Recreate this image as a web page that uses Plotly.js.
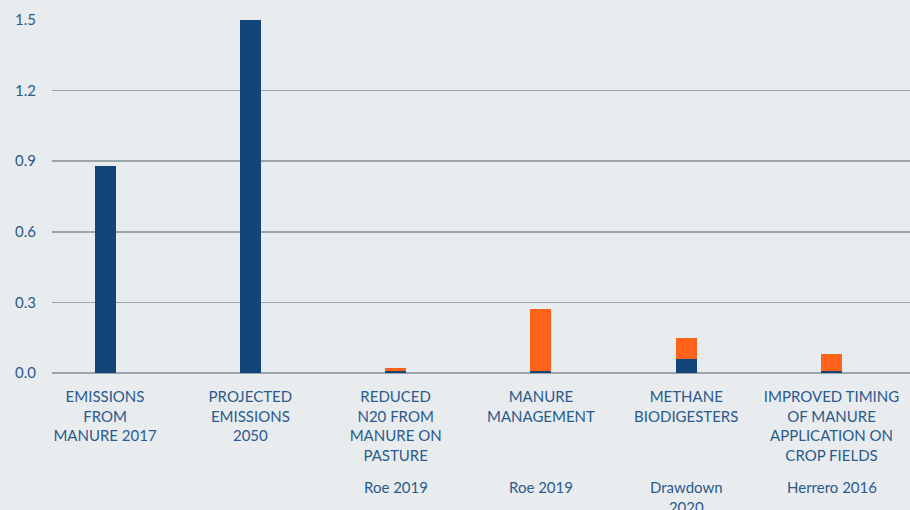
<!DOCTYPE html>
<html>
<head>
<meta charset="utf-8">
<script src="https://cdn.plot.ly/plotly-3.0.1.min.js"></script>
<style>
  html, body { margin: 0; padding: 0; background: #e8ecef; }
  #chart { width: 910px; height: 510px; }
</style>
</head>
<body>
<div id="chart"></div>
<script>
const categories = [
  "EMISSIONS<br>FROM<br>MANURE 2017",
  "PROJECTED<br>EMISSIONS<br>2050",
  "REDUCED<br>N20 FROM<br>MANURE ON<br>PASTURE",
  "MANURE<br>MANAGEMENT",
  "METHANE<br>BIODIGESTERS",
  "IMPROVED TIMING<br>OF MANURE<br>APPLICATION ON<br>CROP FIELDS"
];
const sources = ["", "", "Roe 2019", "Roe 2019", "Drawdown<br>2020", "Herrero 2016"];
const baseValues = [0.88, 1.5, 0.01, 0.01, 0.06, 0.01];
const extraValues = [0, 0, 0.01, 0.26, 0.09, 0.07];
const yTicks = [0, 0.3, 0.6, 0.9, 1.2, 1.5];

const idx = categories.map((_, i) => i);
const textColor = "#2b5a8c";
const fontFam = "Lato, 'Open Sans', sans-serif";
const fontSize = 15;

const traces = [
  { type: "bar", x: idx, y: baseValues, marker: { color: "#12467a" }, width: 0.145, hoverinfo: "skip" },
  { type: "bar", x: idx, y: extraValues, marker: { color: "#ff6319" }, width: 0.145, hoverinfo: "skip" }
];

const ann = [];
sources.forEach((s, i) => {
  if (!s) return;
  ann.push({
    x: i, xref: "x", y: -0.292, yref: "paper", yanchor: "top", xanchor: "center",
    text: s, showarrow: false, font: { family: fontFam, size: fontSize, color: textColor }
  });
});

const layout = {
  width: 910, height: 510,
  margin: { l: 52, r: 0, t: 19.5, b: 136.5 },
  paper_bgcolor: "#e8ecef",
  plot_bgcolor: "#e8ecef",
  barmode: "stack",
  showlegend: false,
  font: { family: fontFam, size: fontSize, color: textColor },
  xaxis: {
    type: "linear",
    range: [-0.365, 5.54],
    tickvals: idx,
    ticktext: categories,
    showgrid: false,
    zeroline: false,
    showline: false,
    ticks: "",
    ticklabelstandoff: 13,
    tickfont: { family: fontFam, size: fontSize, color: textColor }
  },
  yaxis: {
    range: [0, 1.5],
    tickvals: yTicks,
    tickformat: ".1f",
    showgrid: true,
    gridcolor: "#9ba5ab",
    gridwidth: 1.5,
    zeroline: true,
    zerolinecolor: "#9ba5ab",
    zerolinewidth: 1.5,
    showline: false,
    ticks: "",
    ticklabelstandoff: 15,
    tickfont: { family: fontFam, size: fontSize, color: textColor }
  },
  annotations: ann
};

Plotly.newPlot("chart", traces, layout, { displayModeBar: false, staticPlot: true });
</script>
</body>
</html>
